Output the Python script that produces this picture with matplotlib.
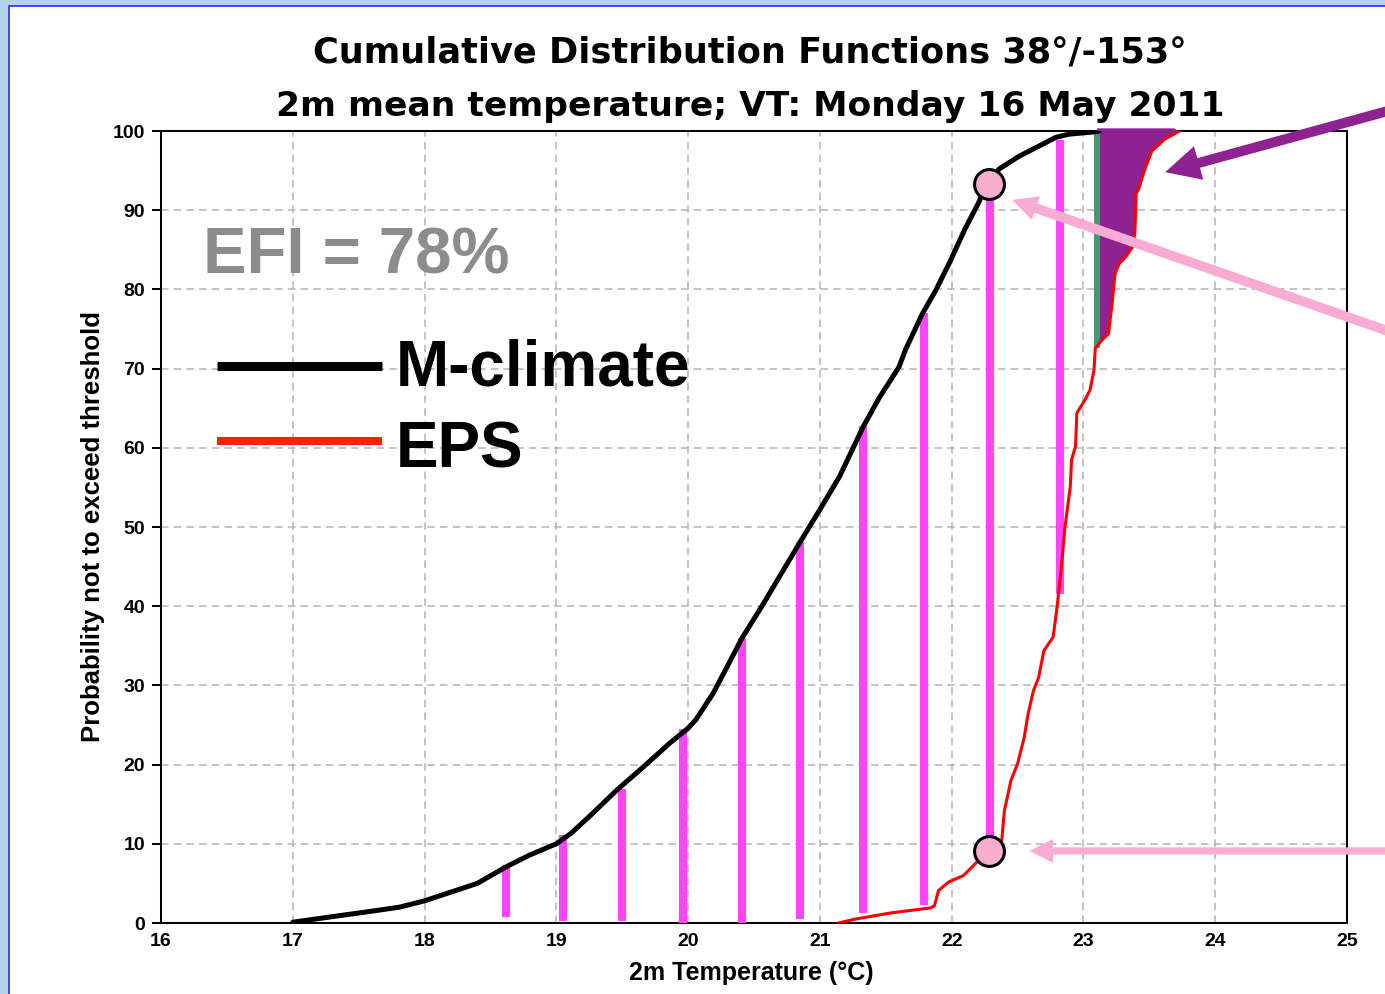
import matplotlib
matplotlib.use('Agg')
import matplotlib.pyplot as plt
import numpy as np
from matplotlib.patches import Rectangle
from matplotlib.lines import Line2D

# ---------------- data ----------------
mclim_t = [17.0, 17.3, 17.56, 17.81, 18.0, 18.2, 18.4, 18.62, 18.8, 19.0, 19.11, 19.26,
           19.46, 19.66, 19.86, 20.0, 20.06, 20.19, 20.31, 20.41, 20.56, 20.71, 20.85,
           21.0, 21.15, 21.33, 21.45, 21.6, 21.65, 21.78, 21.88, 21.99, 22.1, 22.2,
           22.27, 22.36, 22.51, 22.71, 22.79, 22.89, 23.09, 23.12]
mclim_p = [0.1, 0.8, 1.4, 2.0, 2.8, 3.9, 5.0, 7.1, 8.6, 10.0, 11.3, 13.6,
           16.8, 19.7, 22.7, 24.6, 25.7, 29.0, 32.8, 36.0, 40.0, 44.2, 48.1,
           52.2, 56.4, 62.7, 66.3, 70.2, 72.4, 77.0, 79.9, 83.6, 87.6, 90.8,
           93.3, 95.2, 96.8, 98.5, 99.2, 99.6, 99.9, 100.0]

eps_t = [21.14, 21.27, 21.55, 21.84, 21.87, 21.9, 21.98, 22.09, 22.18, 22.27, 22.38,
         22.40, 22.45, 22.5, 22.55, 22.58, 22.62, 22.66, 22.7, 22.77, 22.8, 22.83,
         22.86, 22.90, 22.91, 22.94, 22.95, 23.01, 23.05, 23.08, 23.09, 23.14, 23.19,
         23.22, 23.24, 23.27, 23.32, 23.37, 23.39, 23.40, 23.42, 23.47, 23.52, 23.62, 23.73]
eps_p = [0.0, 0.5, 1.3, 1.9, 2.2, 4.1, 5.2, 6.0, 7.5, 9.0, 10.4,
         14.2, 18.0, 20.1, 23.4, 26.4, 29.3, 31.0, 34.4, 36.1, 39.9, 44.5,
         50.0, 55.1, 58.5, 60.2, 64.4, 66.0, 67.3, 69.8, 72.6, 73.6, 74.4,
         78.6, 82.0, 83.2, 84.1, 85.3, 87.0, 92.1, 92.7, 95.4, 97.5, 99.0, 100.0]

bar_t = [18.62, 19.05, 19.50, 19.96, 20.41, 20.85, 21.33, 21.79, 22.29, 22.82]
bar_top = [7.3, 11.1, 16.9, 24.5, 36.0, 48.1, 62.7, 77.0, 91.5, 98.9]
bar_bottom = [0.8, 0.3, 0.3, -0.3, -0.3, 0.5, 1.2, 2.3, 11.0, 41.6]

circle_t = [22.28, 22.28]
circle_p = [93.3, 9.1]

efi_threshold = 23.1
efi_fill_from = 72.6

x_ticks = list(range(16, 26))
y_ticks = list(range(0, 101, 10))

title_lines = ["Cumulative Distribution Functions 38°/-153°",
               "2m mean temperature; VT: Monday 16 May 2011"]
x_label = "2m Temperature (°C)"
y_label = "Probability not to exceed threshold"
efi_text = "EFI = 78%"
legend_names = ["M-climate", "EPS"]

# ---------------- figure ----------------
W, H = 1385, 994
fig = plt.figure(figsize=(W / 100, H / 100), dpi=100)
fig.patch.set_facecolor('#b3d3ec')


def fx(x):
    return x / W


def fy(y):
    return 1 - y / H


fig.patches.append(Rectangle((fx(8.5), -0.05), 1.2, fy(5.5) + 0.05,
                             transform=fig.transFigure, facecolor='white',
                             edgecolor='#2b2bff', lw=1.2, zorder=-5))

ax = fig.add_axes([fx(161), fy(923), fx(1347) - fx(161), fy(131) - fy(923)])
ax.set_zorder(1)
ax.set_facecolor('white')
ax.set_xlim(16, 25)
ax.set_ylim(0, 100)
ax.set_axisbelow(True)
ax.grid(True, color='#b4b4b4', lw=1.1, linestyle=(0, (5, 3.3)))

tick_font = dict(family=['Liberation Sans Narrow', 'DejaVu Sans Condensed', 'Liberation Sans'],
                 weight='bold', size=14)
ax.set_xticks(x_ticks)
ax.set_yticks(y_ticks)
ax.set_xticklabels([str(v) for v in x_ticks], fontdict=tick_font)
ax.set_yticklabels([str(v) for v in y_ticks], fontdict=tick_font)
ax.tick_params(axis='y', length=6.5, width=1.4, pad=5)
ax.tick_params(axis='x', length=0, pad=7)
for s in ax.spines.values():
    s.set_linewidth(1.45)
    s.set_color('black')

# purple EFI area (slightly overlapping the top frame, as in the original)
yy = np.linspace(efi_fill_from, 100, 300)
xx = np.interp(yy, eps_p, eps_t)
ax.fill_betweenx(np.append(yy, 100.4), efi_threshold, np.append(xx, xx[-1] - 0.05),
                 color='#8e2290', lw=0, zorder=2.6, clip_on=False)
ax.plot([efi_threshold, efi_threshold], [efi_fill_from, 100], color='#3f9a73', lw=4.3,
        solid_capstyle='butt', zorder=3)

# magenta bars
ax.vlines(bar_t, bar_bottom, bar_top, color='#ff44ff', lw=5.8, zorder=3)

# curves
ax.plot(mclim_t, mclim_p, color='black', lw=3.6, zorder=4, solid_capstyle='round')
ax.plot(eps_t, eps_p, color='#ff0000', lw=2.2, zorder=4)

# circles
ax.plot(circle_t, circle_p, 'o', ms=21.5, mfc='#f9aed0', mec='black', mew=2.2,
        zorder=6, clip_on=False)

# arrows
ax.annotate('', xy=(23.62, 94.8), xycoords='data', xytext=(1395, H - 109),
            textcoords='figure pixels', annotation_clip=False,
            arrowprops=dict(arrowstyle='simple,head_length=25,head_width=25,tail_width=7.2',
                            mutation_scale=1, color='#8e2290', lw=0,
                            shrinkA=0, shrinkB=0), zorder=7)
ax.annotate('', xy=(22.46, 91.3), xycoords='data', xytext=(1395, H - 333.5),
            textcoords='figure pixels', annotation_clip=False,
            arrowprops=dict(arrowstyle='simple,head_length=18,head_width=18,tail_width=7',
                            mutation_scale=1, color='#f9acd3', lw=0,
                            shrinkA=0, shrinkB=0), zorder=7)
ax.annotate('', xy=(22.59, 9.1), xycoords='data', xytext=(1395, H - 851),
            textcoords='figure pixels', annotation_clip=False,
            arrowprops=dict(arrowstyle='simple,head_length=17,head_width=17,tail_width=5.2',
                            mutation_scale=1, color='#f9acd3', lw=0,
                            shrinkA=0, shrinkB=0), zorder=7)

# titles and labels
fig.text(fx(750), fy(63), title_lines[0], ha='center', va='baseline',
         fontsize=25.3, fontweight='bold', family='DejaVu Sans')
fig.text(fx(750), fy(116), title_lines[1], ha='center', va='baseline',
         fontsize=24.8, fontweight='bold', family='DejaVu Sans')
fig.text(fx(751), fy(980), x_label, ha='center', va='baseline',
         fontsize=18, fontweight='bold', family='Liberation Sans')
fig.text(fx(93), fy(526), y_label, ha='center', va='center', rotation=90,
         fontsize=18.5, fontweight='bold', family='Liberation Sans')

# overlay texts (drawn above axes)
fig.text(fx(203), fy(274), efi_text, ha='left', va='baseline', fontsize=47,
         fontweight='bold', family='Liberation Sans', color='#8c8c8c', zorder=10)

fig.add_artist(Line2D([fx(217), fx(382)], [fy(366), fy(366)], color='black', lw=6.5,
                      solid_capstyle='butt', zorder=10))
fig.add_artist(Line2D([fx(217), fx(382)], [fy(441), fy(441)], color='#ff2200', lw=5.8,
                      solid_capstyle='butt', zorder=10))
fig.text(fx(396), fy(386), legend_names[0], ha='left', va='baseline', fontsize=46,
         fontweight='bold', family='Liberation Sans', color='black', zorder=10)
fig.text(fx(396), fy(468), legend_names[1], ha='left', va='baseline', fontsize=46,
         fontweight='bold', family='Liberation Sans', color='black', zorder=10)

fig.savefig('out.png', dpi=100, facecolor=fig.get_facecolor())
